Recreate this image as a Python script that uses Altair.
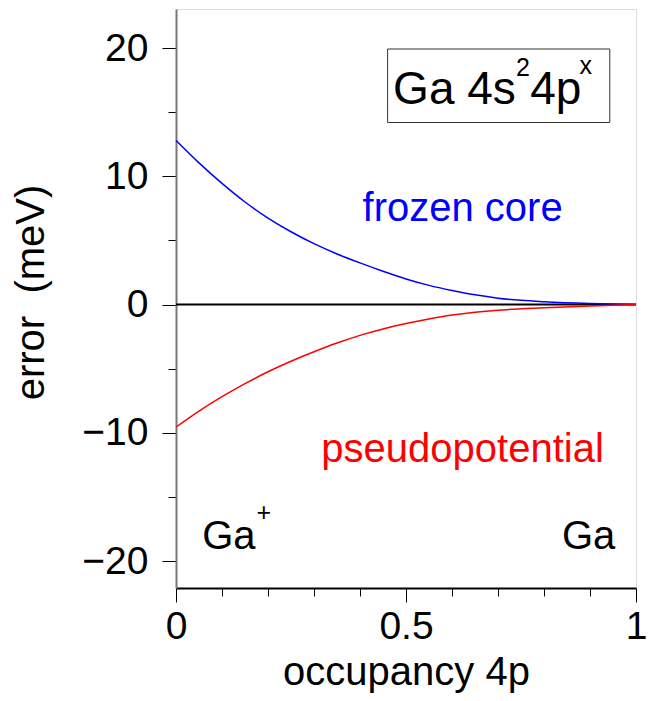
import altair as alt
import pandas as pd

occupancy = [0, 0.05, 0.1, 0.15, 0.2, 0.25, 0.3, 0.35, 0.4, 0.45, 0.5, 0.55, 0.6, 0.65, 0.7, 0.75, 0.8, 0.9, 1.0]
frozen_core = [12.8, 11.05, 9.45, 8.0, 6.75, 5.68, 4.75, 3.95, 3.25, 2.6, 2.0, 1.5, 1.1, 0.76, 0.5, 0.33, 0.22, 0.08, 0.0]
pseudopotential = [-9.55, -8.3, -7.18, -6.16, -5.24, -4.42, -3.68, -3.0, -2.4, -1.9, -1.48, -1.12, -0.82, -0.6, -0.44, -0.33, -0.24, -0.11, 0.0]

x_ticks = [round(i * 0.1, 1) for i in range(11)]
y_ticks = [-20, -15, -10, -5, 0, 5, 10, 15, 20]

series_names = ["frozen core", "pseudopotential"]
series_colors = ["#0000ff", "#ff0000"]

df = pd.DataFrame({
    "occupancy": occupancy * 2,
    "error": frozen_core + pseudopotential,
    "series": [series_names[0]] * len(occupancy) + [series_names[1]] * len(occupancy),
})

labels = pd.DataFrame({
    "text": ["frozen core", "pseudopotential"],
    "x": [0.623, 0.623],
    "y": [6.5, -12.3],
    "series": series_names,
})

ann_left = pd.DataFrame({"text": ["Ga"], "x": [0.057], "y": [-19.05]})
ann_right = pd.DataFrame({"text": ["Ga"], "x": [0.955], "y": [-19.05]})
box_text = pd.DataFrame({"text": ["Ga 4s", "4p"], "x": [0.472, 0.770], "y": [15.64, 15.64]})
ann_sup = pd.DataFrame({
    "text": ["+", "2", "x"],
    "x": [0.175, 0.739, 0.877],
    "y": [-16.9, 17.85, 17.95],
})
box = pd.DataFrame({"x": [0.46], "x2": [0.943], "y": [14.2], "y2": [19.93]})

X = alt.Scale(domain=[0, 1], nice=False, zero=False)
Y = alt.Scale(domain=[-22.1, 23.05], nice=False, zero=False)

major_x = "abs(datum.value*2 - round(datum.value*2)) < 1e-6"
major_y = "abs(datum.value/10 - round(datum.value/10)) < 1e-6"

x_axis = alt.Axis(
    values=x_ticks, title="occupancy 4p", grid=False, format="~g",
    labelExpr=f"{major_x} ? datum.label : ''",
    tickSize={"condition": {"test": major_x, "value": 14}, "value": 8},
    tickColor="black", tickWidth=1,
    domainColor="black", domainWidth=2,
    labelFontSize=39, labelFont="Liberation Sans", labelColor="black",
    labelPadding=5, labelOverlap=False, labelFlush=False,
    titleFontSize=40, titleFont="Liberation Sans", titleFontWeight="normal",
    titleColor="black", titleBaseline="alphabetic", titleY=96,
)
y_axis = alt.Axis(
    values=y_ticks, title="error\u00a0 (meV)", grid=False,
    labelExpr=f"{major_y} ? datum.label : ''",
    tickSize={"condition": {"test": major_y, "value": 14}, "value": 8},
    tickColor="black", tickWidth=1,
    domainColor="#777777", domainWidth=2,
    labelFontSize=39, labelFont="Liberation Sans", labelColor="black",
    labelPadding=14, labelOverlap=False, labelFlush=False,
    titleFontSize=40, titleFont="Liberation Sans", titleFontWeight="normal",
    titleColor="black", titleBaseline="alphabetic", titleX=-133, titleY=283,
)

color = alt.Color("series:N", scale=alt.Scale(domain=series_names, range=series_colors), legend=None)

lines = alt.Chart(df).mark_line(strokeWidth=1.5, interpolate="monotone").encode(
    x=alt.X("occupancy:Q", scale=X, axis=x_axis),
    y=alt.Y("error:Q", scale=Y, axis=y_axis),
    color=color,
)

zero = alt.Chart(pd.DataFrame({"y": [0]})).mark_rule(color="black", strokeWidth=2).encode(
    y=alt.Y("y:Q", scale=Y),
)

series_text = alt.Chart(labels).mark_text(
    fontSize=40, font="Liberation Sans", align="center", baseline="alphabetic"
).encode(
    x=alt.X("x:Q", scale=X), y=alt.Y("y:Q", scale=Y), text="text:N", color=color,
)

left_text = alt.Chart(ann_left).mark_text(
    fontSize=40, font="Liberation Sans", baseline="alphabetic", align="left", color="black"
).encode(x=alt.X("x:Q", scale=X), y=alt.Y("y:Q", scale=Y), text="text:N")

right_text = alt.Chart(ann_right).mark_text(
    fontSize=40, font="Liberation Sans", baseline="alphabetic", align="right", color="black"
).encode(x=alt.X("x:Q", scale=X), y=alt.Y("y:Q", scale=Y), text="text:N")

box_label = alt.Chart(box_text).mark_text(
    fontSize=46, font="Liberation Sans", baseline="alphabetic", align="left", color="black"
).encode(x=alt.X("x:Q", scale=X), y=alt.Y("y:Q", scale=Y), text="text:N")

sup_text = alt.Chart(ann_sup).mark_text(
    fontSize=25, font="Liberation Sans", baseline="alphabetic", align="left", color="black"
).encode(x=alt.X("x:Q", scale=X), y=alt.Y("y:Q", scale=Y), text="text:N")

box_mark = alt.Chart(box).mark_rect(fill=None, stroke="#333333", strokeWidth=1).encode(
    x=alt.X("x:Q", scale=X), x2="x2:Q", y=alt.Y("y:Q", scale=Y), y2="y2:Q",
)

chart = alt.layer(zero, lines, series_text, box_mark, left_text, right_text, box_label, sup_text).properties(
    width=460, height=579,
    autosize=alt.AutoSizeParams(type="none"),
    padding={"left": 168, "top": 1, "right": 11, "bottom": 105},
).configure_view(
    fill="#dcdcdc", stroke="#555555", strokeWidth=1,
).configure(background="white")

chart.save("out.html", embed_options={"renderer": "svg", "actions": False})
